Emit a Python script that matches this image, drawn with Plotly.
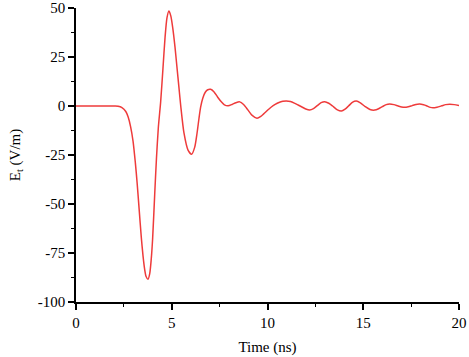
import plotly.graph_objects as go

time_ns = [0, 2.0, 2.2, 2.4, 2.6, 2.72, 2.85, 2.98, 3.1, 3.19, 3.3, 3.41, 3.5, 3.58, 3.66, 3.76,
           3.85, 3.93, 4.0, 4.11, 4.2, 4.3, 4.42, 4.54, 4.65, 4.75, 4.85, 4.95, 5.05, 5.17, 5.27,
           5.37, 5.47, 5.64, 5.85, 6.04, 6.2, 6.32, 6.42, 6.51, 6.62, 6.75, 6.88, 7.03, 7.2, 7.4,
           7.6, 7.75, 7.94, 8.15, 8.35, 8.55, 8.75, 8.9, 9.05, 9.2, 9.45, 9.65, 9.8, 10.0, 10.2,
           10.4, 10.6, 10.8, 10.98, 11.2, 11.4, 11.6, 11.8, 12.0, 12.2, 12.4, 12.6, 12.8, 12.99,
           13.2, 13.4, 13.65, 13.86, 14.05, 14.25, 14.45, 14.64, 14.85, 15.1, 15.35, 15.6, 15.8,
           16.0, 16.2, 16.38, 16.6, 16.8, 17.0, 17.16, 17.35, 17.55, 17.75, 17.95, 18.15, 18.3,
           18.5, 18.64, 18.85, 19.1, 19.3, 19.52, 19.75, 20.0]
e_field = [0, 0, -0.1, -0.8, -2.8, -5.5, -10.5, -18, -29, -39, -53, -67, -76.5, -83, -87, -88.4,
           -85.5, -78, -68, -45, -27, -11, 2, 19, 35, 45, 48.5, 46, 40, 30, 20,
           10, 0, -13.9, -22.5, -24.6, -21, -13.9, -6.5, -0.5, 4, 7, 8.3, 8.5, 7.3, 4.5,
           2, 0.6, 0.1, 0.8, 1.7, 2.1, 0.8, -1, -3, -4.8, -6.2, -5.3, -4, -2.2, -0.5,
           0.8, 1.8, 2.4, 2.6, 2.3, 1.5, 0.5, -0.5, -1.5, -2.0, -1.3, 0.2, 1.7, 2.2,
           1.4, 0, -2.0, -2.6, -1.6, 0.2, 2.0, 2.5, 1.6, -0.3, -1.8, -2.1, -1.4,
           -0.3, 0.7, 1.0, 0.7, 0.1, -0.5, -0.7, -0.4, 0.2, 0.8, 1.0, 0.6, 0.1,
           -0.7, -0.9, -0.6, 0.1, 0.7, 0.9, 0.7, 0.3]

x_ticks = [0, 5, 10, 15, 20]
x_tick_labels = ["0", "5", "10", "15", "20"]
y_ticks = [-100, -75, -50, -25, 0, 25, 50]
y_tick_labels = ["-100", "-75", "-50", "-25", "0", "25", "50"]

font_family = "Times New Roman"

fig = go.Figure()
fig.add_trace(go.Scatter(
    x=time_ns, y=e_field, mode="lines",
    line=dict(color="#ee3b3b", width=1.5, shape="spline", smoothing=0.7),
    showlegend=False,
))

axis_common = dict(
    showgrid=False, zeroline=False, showline=True, linecolor="black", linewidth=1.5,
    ticks="outside", ticklen=6, tickwidth=1.5, tickcolor="black",
    tickfont=dict(family=font_family, size=15, color="black"),
    mirror=False, automargin=False,
)

fig.update_xaxes(
    range=[0, 20], tickmode="array", tickvals=x_ticks, ticktext=x_tick_labels,
    minor=dict(ticks="outside", ticklen=3, tickwidth=1.2, tickcolor="black", dtick=2.5, tick0=0),
    title=dict(text="Time (ns)", font=dict(family=font_family, size=15, color="black"), standoff=12),
    **axis_common,
)
fig.update_yaxes(
    range=[-100, 50], tickmode="array", tickvals=y_ticks, ticktext=y_tick_labels,
    minor=dict(ticks="outside", ticklen=3, tickwidth=1.2, tickcolor="black", dtick=12.5, tick0=0),
    title=dict(text="E<sub>t</sub> (V/m)", font=dict(family=font_family, size=15, color="black"), standoff=14),
    **axis_common,
)

fig.update_layout(
    width=469, height=357,
    margin=dict(l=76, r=10, t=8, b=55),
    font=dict(family=font_family, size=15, color="black"),
    plot_bgcolor="white", paper_bgcolor="white",
)

fig.write_html("out.html", config={"displayModeBar": False},
               post_script="document.body.style.margin='0';")
